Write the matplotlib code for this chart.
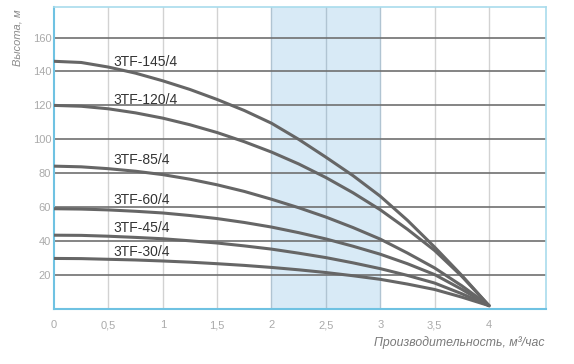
import matplotlib.pyplot as plt
from matplotlib.ticker import FuncFormatter

# flow rate, m3/h
flow = [0, 0.25, 0.5, 0.75, 1, 1.25, 1.5, 1.75, 2, 2.25, 2.5, 2.75, 3, 3.25, 3.5, 3.75, 4]

# head, m
h_145 = [146, 145.3, 142.6, 139, 134.5, 129.4, 123.5, 117, 109.5, 100, 89.5, 78.6, 66.5, 52.3, 36.5, 19.8, 2]
h_120 = [120, 119.5, 118, 115.6, 112.5, 108.6, 104, 98.6, 92.5, 85.5, 77.5, 68.5, 58.5, 47, 34.5, 19.3, 2]
h_85 = [84.2, 83.8, 82.7, 81.2, 79.2, 76.5, 73.2, 69.3, 64.7, 59.7, 54.2, 48, 41.2, 33, 24.2, 13.7, 2]
h_60 = [59.1, 58.9, 58.4, 57.6, 56.6, 55.1, 53.3, 51, 48.3, 45, 41.3, 37, 32.3, 26.7, 20.3, 11.6, 2]
h_45 = [43.5, 43.4, 42.9, 42.2, 41.4, 40.2, 38.9, 37.2, 35.3, 32.9, 30.3, 27.2, 23.8, 19.8, 15.3, 9, 2]
h_30 = [29.8, 29.7, 29.3, 28.9, 28.3, 27.6, 26.7, 25.7, 24.5, 23.1, 21.5, 19.6, 17.5, 14.7, 11.5, 7, 2]

pumps = ["3TF-145/4", "3TF-120/4", "3TF-85/4", "3TF-60/4", "3TF-45/4", "3TF-30/4"]
heads = [h_145, h_120, h_85, h_60, h_45, h_30]
label_y = [143, 121, 85.5, 62, 45.5, 31]

x_ticks = [0, 0.5, 1, 1.5, 2, 2.5, 3, 3.5, 4]
y_ticks = [20, 40, 60, 80, 100, 120, 140, 160]
band = (2, 3)

curve_color = "#666666"

fig = plt.figure(figsize=(5.74, 3.64), dpi=100)
ax = fig.add_axes([54 / 574, 1 - 309 / 364, 491.5 / 574, 302 / 364])

ax.axvspan(band[0], band[1], color="#d8eaf6", zorder=0, lw=0)

for x in x_ticks[1:]:
    c = "#b0c4d2" if band[0] <= x <= band[1] else "#d2d2d2"
    ax.axvline(x, color=c, lw=1, zorder=1)
for y in y_ticks:
    ax.axhline(y, color="#707070", lw=1.2, zorder=1)

for name, h, ly in zip(pumps, heads, label_y):
    ax.plot(flow, h, color=curve_color, lw=2.2, zorder=3, solid_capstyle="round")
    ax.text(0.545, ly, name, fontsize=10, color="#333333", va="baseline",
            ha="left", family="Liberation Sans", zorder=4)

ax.set_xlim(0, 4.52)
ax.set_ylim(0, 178)
ax.set_xticks(x_ticks)
ax.set_yticks(y_ticks)
ax.xaxis.set_major_formatter(FuncFormatter(lambda v, p: f"{v:g}".replace(".", ",")))
ax.tick_params(length=0, labelsize=8, labelcolor="#aaaaaa")
ax.tick_params(axis="x", pad=8)
ax.tick_params(axis="y", pad=2)
for lab in ax.get_xticklabels() + ax.get_yticklabels():
    lab.set_family("Liberation Sans")

for side in ["left", "bottom"]:
    ax.spines[side].set_color("#6fc2e2")
    ax.spines[side].set_linewidth(1.5)
for side in ["top", "right"]:
    ax.spines[side].set_color("#a9dcec")
    ax.spines[side].set_linewidth(1.2)

fig.text(18 / 574, 1 - 9 / 364, "Высота, м", rotation=90, ha="center", va="top",
         fontsize=8, style="italic", color="#8a8a8a", family="Liberation Sans")
fig.text(545 / 574, 1 - 343 / 364, "Производительность, м³/час", ha="right", va="center",
         fontsize=8.8, style="italic", color="#7a7a7a", family="Liberation Sans")

fig.savefig("out.png", dpi=100)
